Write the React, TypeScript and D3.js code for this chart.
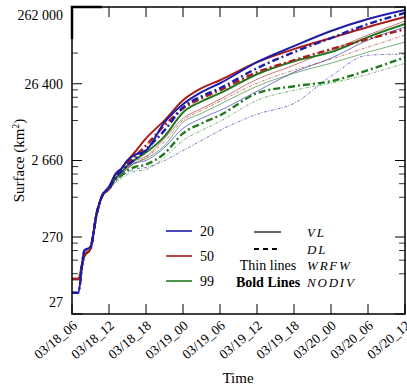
import React from 'react'
import * as d3 from 'd3'

// hours after 03/18 06:00
const hours = [0, 1, 2, 3, 4, 5, 6, 7, 8, 9, 10, 12, 15, 18, 21, 24, 30, 36, 42, 48, 54]

// surface in km²
const blueVLNodiv = [51, 51, 179, 201, 542, 960, 1220, 1750, 2090, 2660, 3090, 3590, 8320, 14300, 20500, 26800, 50300, 81300, 127600, 182800, 239400]
const blueDLNodiv = [51, 51, 179, 201, 542, 960, 1150, 1600, 1910, 2290, 2660, 3700, 6540, 13000, 18100, 23100, 42000, 67900, 103500, 157400, 218800]
const blueVLWrfw = [51, 51, 179, 201, 542, 960, 1150, 1600, 1855, 2160, 2430, 2660, 3930, 6950, 9380, 11900, 21100, 37300, 56700, 97400, 143900]
const blueDLWrfw = [51, 51, 179, 201, 542, 950, 1080, 1460, 1650, 1855, 2030, 2160, 2660, 3590, 4840, 6540, 10600, 14700, 33100, 62100, 64000]
const redVLNodiv = [77, 77, 154, 190, 542, 960, 1150, 1750, 2090, 2660, 3280, 5150, 8830, 16100, 23100, 29300, 50300, 74300, 103500, 143900, 194100]
const redDLNodiv = [77, 77, 154, 190, 542, 960, 1150, 1650, 1970, 2430, 2910, 4170, 7600, 12600, 17100, 21700, 37300, 53400, 74300, 100400, 135500]
const redVLWrfw = [77, 77, 154, 190, 542, 960, 1150, 1550, 1855, 2220, 2580, 3000, 5150, 9380, 12600, 16600, 30200, 46000, 72100, 113200, 172200]
const redDLWrfw = [77, 77, 154, 190, 542, 950, 1080, 1460, 1750, 2090, 2360, 2910, 4700, 8830, 11900, 15600, 26800, 39600, 55100, 78900, 113200]
const greenVLNodiv = [77, 77, 154, 190, 542, 960, 1150, 1550, 1855, 2290, 2660, 3380, 5470, 11200, 15600, 19900, 35100, 51800, 67900, 106600, 157400]
const greenDLNodiv = [77, 77, 154, 190, 542, 960, 1150, 1460, 1700, 1970, 2160, 2360, 3280, 5980, 8070, 10300, 19900, 24500, 28500, 39600, 58500]
const greenVLWrfw = [77, 77, 154, 190, 542, 960, 1150, 1500, 1750, 2090, 2430, 2820, 4170, 8320, 10900, 14300, 24500, 36200, 48800, 67900, 91700]
const greenDLWrfw = [77, 77, 154, 190, 542, 950, 1080, 1370, 1550, 1750, 1910, 2030, 2910, 4840, 6540, 8570, 16100, 21700, 26800, 35100, 48800]

const yMajorTicks = [27, 270, 2660, 26400, 262000]
const yTickLabels = ['27', '270', '2 660', '26 400', '262 000']
const legendSizes = ['20', '50', '99']

const BLUE = '#1c1ca8'
const RED = '#a81c1c'
const GREEN = '#1e7a1e'

type Style = 'bold' | 'boldDash' | 'thin' | 'thinDash'

const series: { values: number[]; color: string; style: Style }[] = [
  { values: blueVLWrfw, color: BLUE, style: 'thin' },
  { values: redVLWrfw, color: RED, style: 'thin' },
  { values: greenVLWrfw, color: GREEN, style: 'thin' },
  { values: blueDLWrfw, color: BLUE, style: 'thinDash' },
  { values: redDLWrfw, color: RED, style: 'thinDash' },
  { values: greenDLWrfw, color: GREEN, style: 'thinDash' },
  { values: greenDLNodiv, color: GREEN, style: 'boldDash' },
  { values: greenVLNodiv, color: GREEN, style: 'bold' },
  { values: redDLNodiv, color: RED, style: 'boldDash' },
  { values: redVLNodiv, color: RED, style: 'bold' },
  { values: blueDLNodiv, color: BLUE, style: 'boldDash' },
  { values: blueVLNodiv, color: BLUE, style: 'bold' },
]

const styleAttrs: Record<Style, { w: number; dash?: string; op: number }> = {
  bold: { w: 2, op: 1 },
  boldDash: { w: 2.4, dash: '7,3,2,3', op: 1 },
  thin: { w: 0.8, op: 0.75 },
  thinDash: { w: 0.8, dash: '3,1.5,1,1.5', op: 0.75 },
}

const W = 407
const H = 392
const left = 72
const right = 405
const top = 7
const bottom = 314

const start = Date.UTC(2020, 2, 18, 6)
const end = Date.UTC(2020, 2, 20, 12)

const serif = "'Liberation Serif', 'Times New Roman', Times, serif"

export default function App() {
  const x = d3.scaleUtc().domain([new Date(start), new Date(end)]).range([left, right])
  const y = d3.scaleLog().domain([27, 262000]).range([bottom, top])
  const xTicks = x.ticks(d3.utcHour.every(6)!)
  const fmt = d3.utcFormat('%m/%d_%H')

  const minorTicks: number[] = [66000]
  ;[26400, 2660, 270].forEach(m => [5, 4, 3, 2].forEach(k => minorTicks.push((m * k) / 6)))

  const line = d3
    .line<number>()
    .x((_, i) => x(new Date(start + hours[i] * 3600e3)))
    .y(d => y(d))
    .curve(d3.curveMonotoneX)

  const txt = { fontFamily: serif }

  return (
    <svg width={W} height={H} style={{ position: 'absolute', left: 0, top: 0, background: '#fff', fontFamily: serif }}>
      <defs>
        <clipPath id="plot">
          <rect x={left} y={top} width={right - left} height={bottom - top} />
        </clipPath>
      </defs>

      <g clipPath="url(#plot)">
        {series.map((s, i) => {
          const a = styleAttrs[s.style]
          return (
            <path
              key={i}
              d={line(s.values) || ''}
              fill="none"
              stroke={s.color}
              strokeWidth={a.w}
              strokeDasharray={a.dash}
              strokeOpacity={a.op}
              strokeLinejoin="round"
            />
          )
        })}
      </g>

      {/* frame */}
      <rect x={left} y={top} width={right - left} height={bottom - top} fill="none" stroke="#000" strokeWidth={1.5} />
      <path d={`M${left},${top + 32}V${top}H${left + 30}`} fill="none" stroke="#000" strokeWidth={2.5} />

      {/* x ticks */}
      {xTicks.map((t, i) => (
        <g key={i}>
          <line x1={x(t)} x2={x(t)} y1={bottom} y2={bottom - 10} stroke="#000" strokeWidth={1} />
          <line x1={x(t)} x2={x(t)} y1={top} y2={top + 10} stroke="#000" strokeWidth={1} />
          <text
            transform={`translate(${x(t) + 6},${bottom + 13}) rotate(-40)`}
            textAnchor="end"
            fontSize={13.5}
            fill="#000"
            style={txt}
          >
            {fmt(t)}
          </text>
        </g>
      ))}

      {/* y ticks */}
      {yMajorTicks.map((v, i) => (
        <g key={v}>
          <line x1={left} x2={left + 10} y1={y(v)} y2={y(v)} stroke="#000" />
          <line x1={right} x2={right - 10} y1={y(v)} y2={y(v)} stroke="#000" />
          <text
            x={63}
            y={i === 0 ? y(v) - 12 : i === yMajorTicks.length - 1 ? y(v) + 8 : y(v)}
            dy="0.35em"
            textAnchor="end"
            fontSize={14}
            style={txt}
          >
            {yTickLabels[i]}
          </text>
        </g>
      ))}
      {minorTicks.map((v, i) => (
        <g key={i}>
          <line x1={left} x2={left + 6} y1={y(v)} y2={y(v)} stroke="#000" strokeWidth={0.8} />
          <line x1={right} x2={right - 6} y1={y(v)} y2={y(v)} stroke="#000" strokeWidth={0.8} />
        </g>
      ))}

      {/* axis titles */}
      <text x={238} y={383} textAnchor="middle" fontSize={15} style={txt}>
        Time
      </text>
      <text transform={`translate(24,${(top + bottom) / 2}) rotate(-90)`} textAnchor="middle" fontSize={15} style={txt}>
        Surface (km<tspan dy="-5" fontSize={10}>2</tspan>
        <tspan dy="5">)</tspan>
      </text>

      {/* legend */}
      {legendSizes.map((s, i) => (
        <g key={s}>
          <line x1={166} x2={192} y1={231 + i * 25} y2={231 + i * 25} stroke={[BLUE, RED, GREEN][i]} strokeWidth={1.6} />
          <text x={200} y={231 + i * 25} dy="0.35em" fontSize={14} style={txt}>
            {s}
          </text>
        </g>
      ))}
      <line x1={254} x2={281} y1={232} y2={232} stroke="#000" strokeWidth={1.2} />
      <line x1={254} x2={281} y1={249} y2={249} stroke="#000" strokeWidth={1.8} strokeDasharray="5,4" />
      <text x={268} y={265} dy="0.35em" textAnchor="middle" fontSize={14} style={txt}>
        Thin lines
      </text>
      <text x={268} y={282} dy="0.35em" textAnchor="middle" fontSize={14} fontWeight="bold" style={txt}>
        Bold Lines
      </text>
      {['VL', 'DL', 'WRFW', 'NODIV'].map((t, i) => (
        <text
          key={t}
          x={307}
          y={[232, 249, 265, 282][i]}
          dy="0.35em"
          fontSize={13}
          fontStyle="italic"
          letterSpacing={1.8}
          style={txt}
        >
          {t}
        </text>
      ))}
    </svg>
  )
}
